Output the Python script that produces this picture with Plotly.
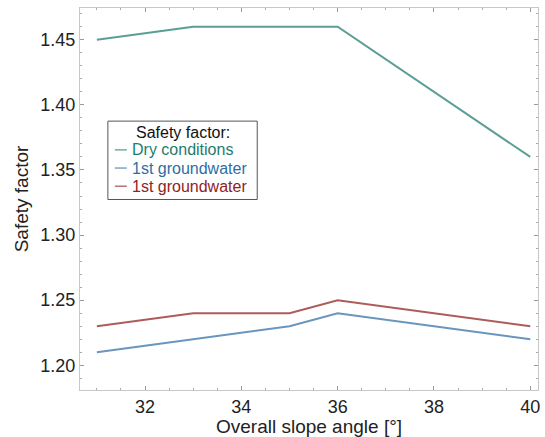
import plotly.graph_objects as go

x_dry = [31, 33, 36, 40]
y_dry = [1.45, 1.46, 1.46, 1.36]
x_gw = [31, 33, 35, 36, 40]
y_gw1 = [1.21, 1.22, 1.23, 1.24, 1.22]
y_gw2 = [1.23, 1.24, 1.24, 1.25, 1.23]
names = ["Dry conditions", "1st groundwater", "1st groundwater"]
legend_title = "Safety factor:"
line_colors = ["#5a9e94", "#6a95bd", "#ad5c5c"]
text_colors = ["#1e7c6c", "#2d6ea3", "#8e2424"]

W, H = 545, 437
ML, MR, MT, MB = 80, 5, 8, 44
PW, PH = W - ML - MR, H - MT - MB

def px(xp):
    return (xp - ML) / PW

def py(yp):
    return 1 - (yp - MT) / PH

fig = go.Figure()
series = [(x_dry, y_dry), (x_gw, y_gw1), (x_gw, y_gw2)]
for (xs, ys), nm, lc in zip(series, names, line_colors):
    fig.add_trace(go.Scatter(x=xs, y=ys, mode="lines", name=nm,
                             line=dict(color=lc, width=2), showlegend=False))

axis_common = dict(showline=True, linecolor="#c8c8c8", linewidth=1, mirror="ticks",
                   ticks="inside", ticklen=4, tickcolor="#999", showgrid=False,
                   zeroline=False, tickfont=dict(size=18, color="#222"),
                   minor=dict(ticks="inside", ticklen=2, tickcolor="#aaa"))

# custom legend box
shapes = [dict(type="rect", xref="paper", yref="paper",
               x0=px(108), x1=px(258), y0=py(201), y1=py(122),
               line=dict(color="#555", width=1), fillcolor="white", layer="above")]
annotations = [dict(text=legend_title, xref="paper", yref="paper", x=px(183), y=py(133),
                    xanchor="center", yanchor="middle", showarrow=False, borderpad=0,
                    font=dict(size=16, color="#111"))]
for i, (nm, lc, tc) in enumerate(zip(names, line_colors, text_colors)):
    yy = py(151 + 18.3 * i)
    shapes.append(dict(type="line", xref="paper", yref="paper",
                       x0=px(115), x1=px(127), y0=yy, y1=yy,
                       line=dict(color=lc, width=1.3), layer="above"))
    annotations.append(dict(text=nm, xref="paper", yref="paper", x=px(131), y=yy,
                            xanchor="left", yanchor="middle", showarrow=False, borderpad=0,
                            font=dict(size=16, color=tc)))

fig.update_layout(
    width=W, height=H,
    margin=dict(l=ML, r=MR, t=MT, b=MB),
    paper_bgcolor="white", plot_bgcolor="white",
    font=dict(family="Liberation Sans, Arial, sans-serif", color="#222"),
    xaxis=dict(range=[30.65, 40.16], tickvals=[32, 34, 36, 38, 40],
               title=dict(text="Overall slope angle [°]", font=dict(size=19), standoff=2),
               **axis_common),
    yaxis=dict(range=[1.181, 1.4744], tickvals=[1.20, 1.25, 1.30, 1.35, 1.40, 1.45],
               tickformat=".2f",
               title=dict(text="Safety factor", font=dict(size=19), standoff=6),
               **axis_common),
    shapes=shapes, annotations=annotations,
)
fig.update_xaxes(minor=dict(dtick=0.5))
fig.update_yaxes(minor=dict(dtick=0.01))

fig.write_html("out.html")
